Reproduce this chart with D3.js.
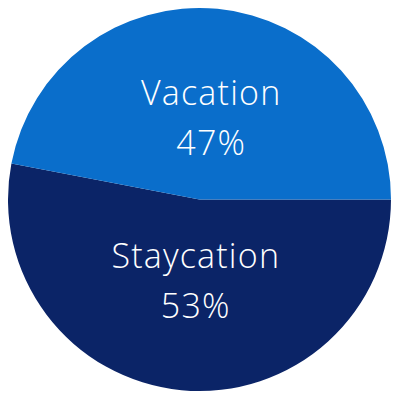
<!DOCTYPE html>
<html>
<head>
<meta charset="utf-8">
<script src="https://cdn.jsdelivr.net/npm/d3@7"></script>
<style>
html,body{margin:0;padding:0;background:#fff;}
svg{display:block;}
</style>
</head>
<body>
<svg id="chart" width="400" height="400"></svg>
<script>
const categories = ["Staycation", "Vacation"];
const values = [53, 47];
const colors = ["#0b2467", "#0a6ecb"];

const W = 400, H = 400, cx = 199.5, cy = 199.5, R = 191.5;
const svg = d3.select("#chart");
const g = svg.append("g").attr("transform", `translate(${cx},${cy})`);

const data = categories.map((c, i) => ({ name: c, value: values[i], color: colors[i] }));
const pie = d3.pie().value(d => d.value).sort(null)
  .startAngle(Math.PI / 2).endAngle(Math.PI / 2 + 2 * Math.PI);
const arcs = pie(data);
const arc = d3.arc().innerRadius(0).outerRadius(R);
const labelArc = d3.arc().innerRadius(82).outerRadius(82);

g.selectAll("path.slice").data(arcs).enter().append("path")
  .attr("class", "slice")
  .attr("d", arc)
  .attr("fill", d => d.data.color);

const lab = g.selectAll("g.lab").data(arcs).enter().append("g")
  .attr("class", "lab")
  .attr("transform", d => { const [x, y] = labelArc.centroid(d); return `translate(${x + 4},${y})`; });

const font = "'Open Sans', Lato, sans-serif";
lab.append("text")
  .attr("text-anchor", "middle")
  .attr("y", -13)
  .attr("font-family", font)
  .attr("font-weight", 350)
  .attr("font-size", 34)
  .attr("letter-spacing", 1.2)
  .attr("fill", "#ffffff")
  .text(d => d.data.name);
lab.append("text")
  .attr("text-anchor", "middle")
  .attr("y", 37)
  .attr("font-family", font)
  .attr("font-weight", 350)
  .attr("font-size", 34)
  .attr("letter-spacing", 1.2)
  .attr("fill", "#ffffff")
  .text(d => d.data.value + "%");
</script>
</body>
</html>
